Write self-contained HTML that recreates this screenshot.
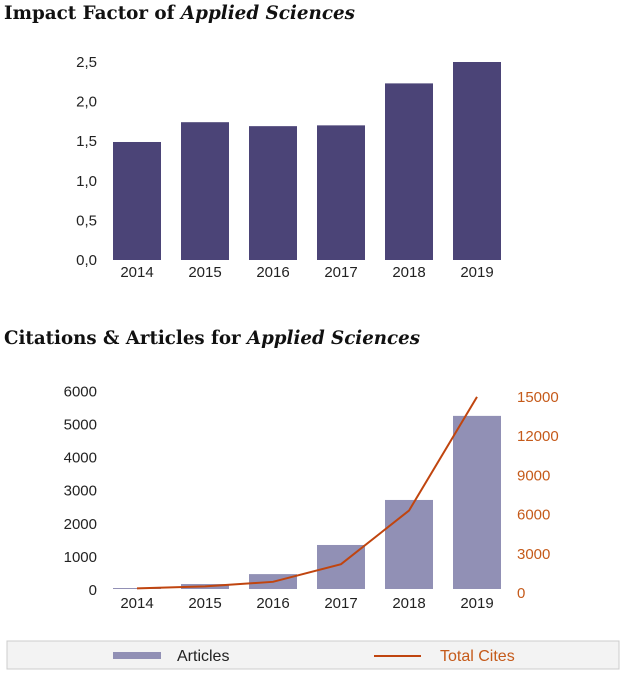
<!DOCTYPE html>
<html><head><meta charset="utf-8"><style>
body{margin:0;background:#fff;width:626px;height:676px;overflow:hidden;font-family:"Liberation Sans",sans-serif}
</style></head><body>
<svg width="626" height="676" xmlns="http://www.w3.org/2000/svg">
<text x="4" y="19" font-family="DejaVu Serif,serif" font-weight="bold" font-size="19" fill="#111" textLength="351" lengthAdjust="spacingAndGlyphs">Impact Factor of <tspan font-style="italic">Applied Sciences</tspan></text>
<text x="4" y="344" font-family="DejaVu Serif,serif" font-weight="bold" font-size="19" fill="#111" textLength="416" lengthAdjust="spacingAndGlyphs">Citations &amp; Articles for <tspan font-style="italic">Applied Sciences</tspan></text>
<g id="c1"></g><g id="c2"></g>
<rect x="7" y="641" width="612" height="28" fill="#f3f3f3" stroke="#ccc"/>
<rect x="113" y="652" width="48" height="7" fill="#9190b5"/>
<text x="177" y="661" font-size="16" fill="#222">Articles</text>
<line x1="374" y1="656" x2="421" y2="656" stroke="#c0450f" stroke-width="2"/>
<text x="440" y="661" font-size="16" fill="#c55a1a">Total Cites</text>
</svg>
<script>
const years=["2014","2015","2016","2017","2018","2019"];
const impact=[1.49,1.74,1.69,1.70,2.23,2.5];
const impactTicks=["0,0","0,5","1,0","1,5","2,0","2,5"];
const articles=[30,150,450,1330,2690,5230];
const cites=[50,200,550,1900,6000,14700];
const leftTicks=[0,1000,2000,3000,4000,5000,6000];
const rightTicks=[0,3000,6000,9000,12000,15000];
const NS="http://www.w3.org/2000/svg";
function mk(p,t,a,txt){const e=document.createElementNS(NS,t);for(const k in a)e.setAttribute(k,a[k]);if(txt!==undefined)e.textContent=txt;p.appendChild(e);return e;}
const xc=i=>137+i*68;
const c1=document.getElementById('c1');
const y1=v=>260-v*79.2;
impactTicks.forEach((t,i)=>{const e=mk(c1,'text',{x:97,y:y1(i*0.5)+5,'text-anchor':'end','font-size':15,fill:'#222'},t);

});
impact.forEach((v,i)=>{const r=mk(c1,'rect',{x:xc(i)-24,y:y1(v),width:48,height:260-y1(v),fill:'#4b4477'});


const t=mk(c1,'text',{x:xc(i),y:277,'text-anchor':'middle','font-size':15,fill:'#222'},years[i]);

});
const c2=document.getElementById('c2');
const yl=v=>589-v*0.0331;
const yr=v=>589-v*0.01307;
leftTicks.forEach(v=>{const e=mk(c2,'text',{x:97,y:yl(v)+6,'text-anchor':'end','font-size':15,fill:'#222'},v);

});
rightTicks.forEach(v=>{const e=mk(c2,'text',{x:517,y:yr(v)+9,'font-size':15,fill:'#c55a1a'},v);

});
articles.forEach((v,i)=>{const r=mk(c2,'rect',{x:xc(i)-24,y:yl(v),width:48,height:589-yl(v),fill:'#9190b5'});


const t=mk(c2,'text',{x:xc(i),y:608,'text-anchor':'middle','font-size':15,fill:'#222'},years[i]);

});
const pl=mk(c2,'polyline',{points:cites.map((v,i)=>xc(i)+','+yr(v)).join(' '),fill:'none',stroke:'#c0450f','stroke-width':2});


</script>
</body></html>
